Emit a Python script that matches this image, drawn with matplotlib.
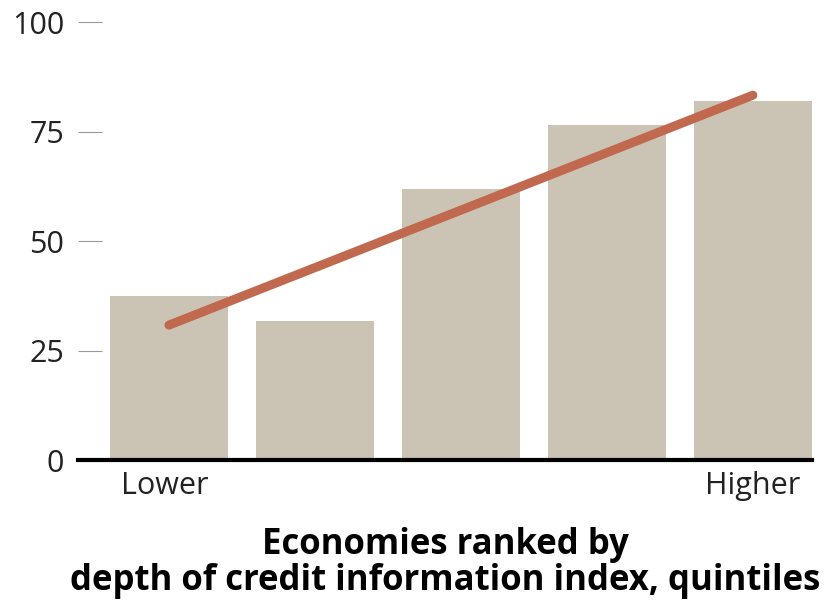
import matplotlib.pyplot as plt

# fuentes: estrecha si existe
plt.rcParams['font.family'] = ['Liberation Sans Narrow', 'Open Sans', 'DejaVu Sans']

# datos
quintiles = [0, 1, 2, 3, 4]
valores = [37.4, 31.7, 61.9, 76.5, 82.0]
tendencia_x = [0, 4]
tendencia_y = [30.8, 83.3]
yticks = [0, 25, 50, 75, 100]
xlabels = ['Lower', 'Higher']

fig = plt.figure(figsize=(8.29, 6), dpi=100)
ax = fig.add_axes([0.0941, 0.2333, 0.8854, 0.73])

ax.bar(quintiles, valores, width=0.81, color='#CBC4B4', zorder=1)
ax.plot(tendencia_x, tendencia_y, color='#C1694E', linewidth=6.5, solid_capstyle='round', zorder=2)

ax.set_xlim(-0.623, 4.405)
ax.set_ylim(0, 100)
ax.set_yticks(yticks)
ax.tick_params(axis='y', direction='in', length=17, width=0.8, color='#999999',
               labelsize=22, pad=10, labelcolor='#222222')
ax.set_xticks([-0.03, 4])
ax.set_xticklabels(xlabels)
ax.tick_params(axis='x', length=0, labelsize=22, pad=8, labelcolor='#222222')

for s in ['top', 'right', 'left']:
    ax.spines[s].set_visible(False)
ax.spines['bottom'].set_linewidth(3)
ax.spines['bottom'].set_color('black')
ax.spines['bottom'].set_zorder(3)

ax.set_xlabel('Economies ranked by\ndepth of credit information index, quintiles',
              fontsize=25, fontweight='bold', linespacing=1.0)
ax.xaxis.set_label_coords(0.5, -0.153, transform=ax.transAxes)
ax.xaxis.label.set_verticalalignment('top')

fig.savefig('out.png', dpi=100)
